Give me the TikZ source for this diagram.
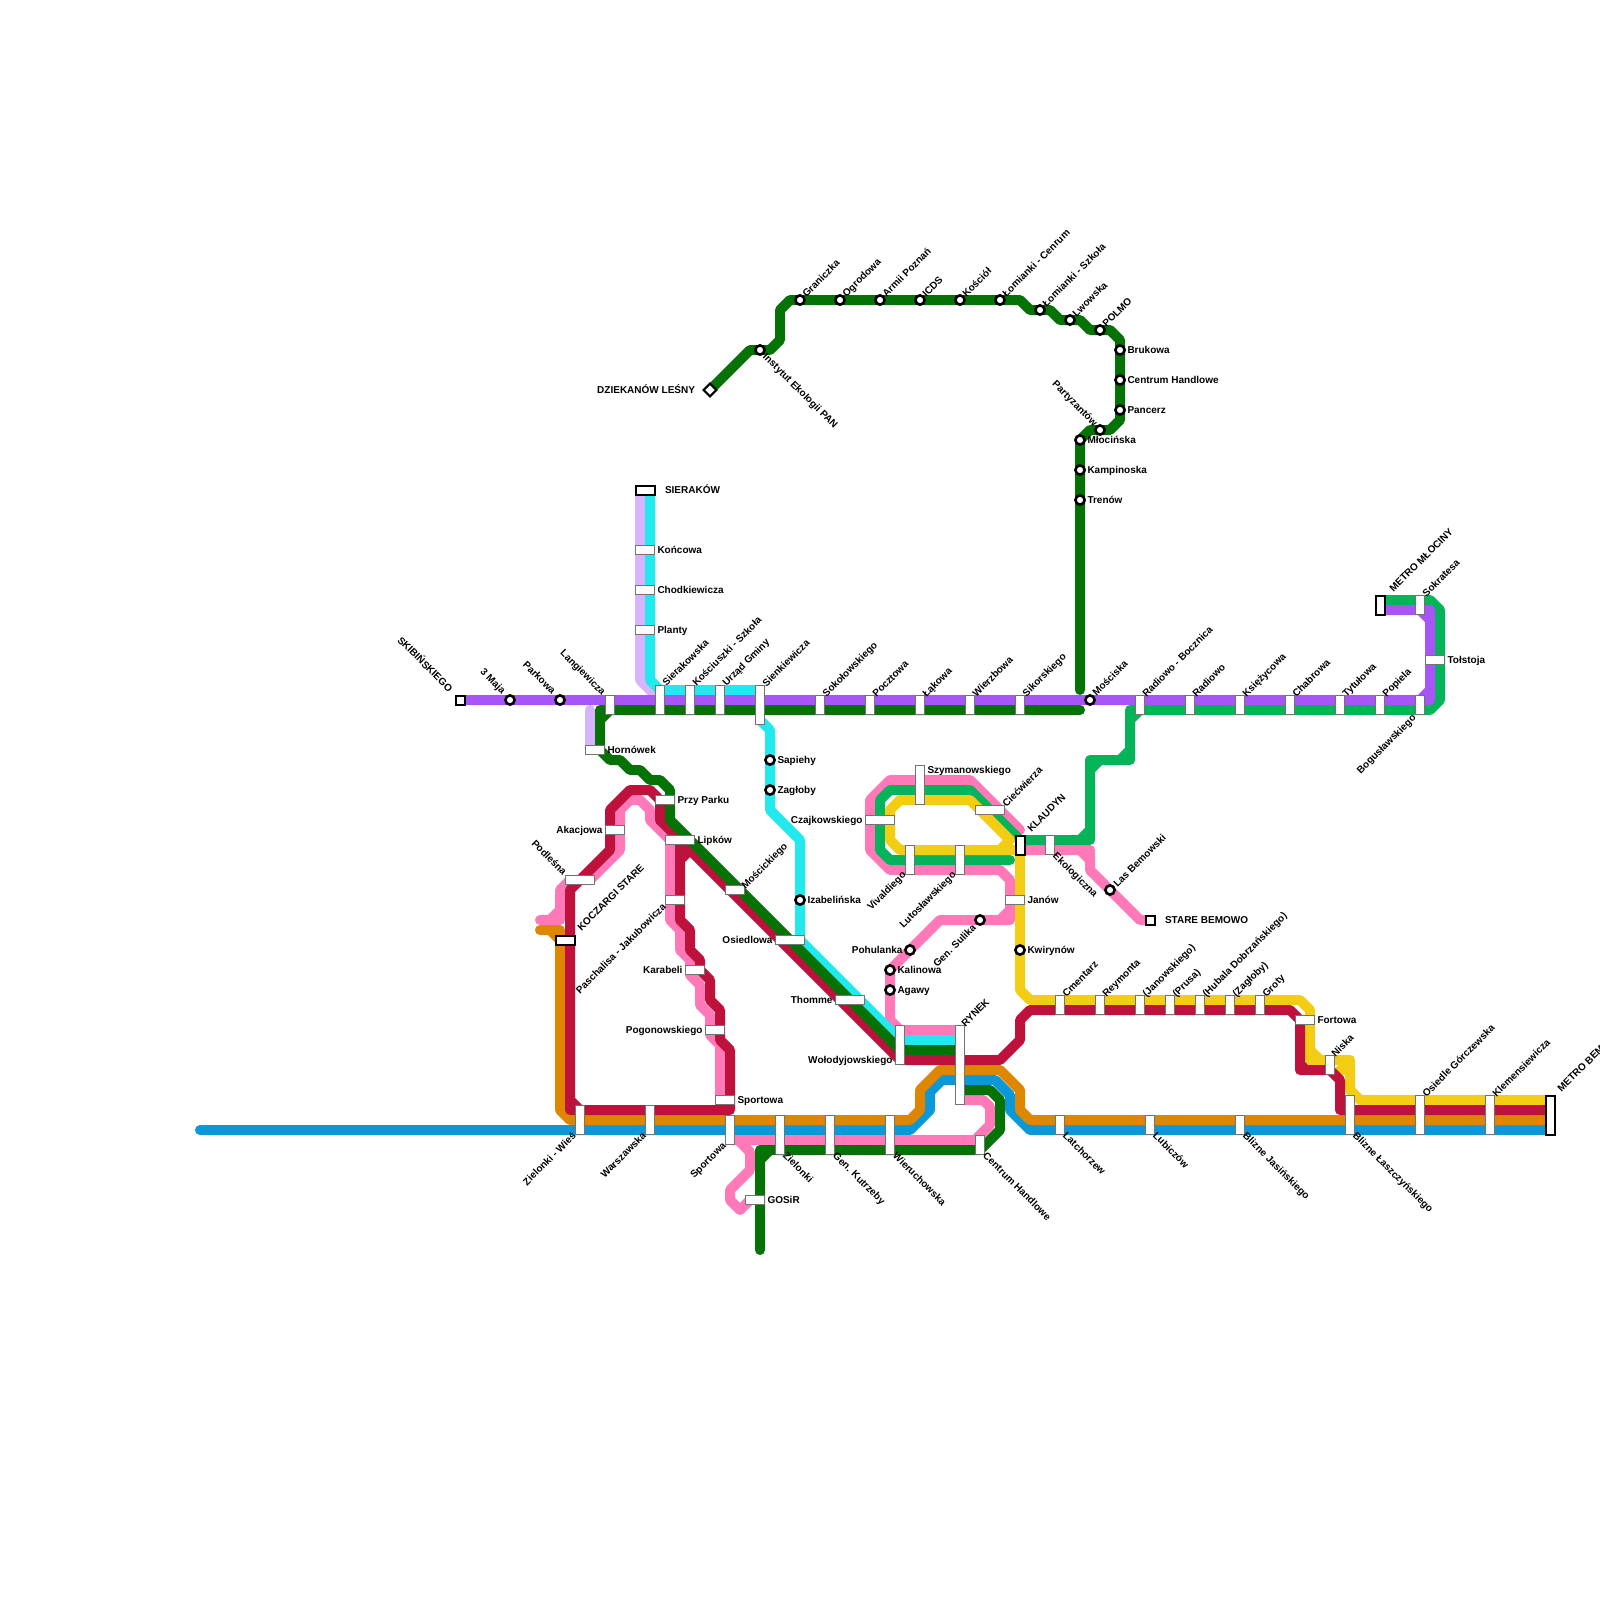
\documentclass[tikz,border=0pt]{standalone}
\usepackage{fontspec}
\setmainfont{Liberation Sans}
\definecolor{cPurple}{HTML}{A855F7}
\definecolor{cLav}{HTML}{D8B4FE}
\definecolor{cCyan}{HTML}{22E9EE}
\definecolor{cGreen}{HTML}{047204}
\definecolor{cEmer}{HTML}{05B358}
\definecolor{cCrim}{HTML}{BE123C}
\definecolor{cPink}{HTML}{FF78B8}
\definecolor{cYel}{HTML}{F2CD13}
\definecolor{cOra}{HTML}{DF8600}
\definecolor{cBlue}{HTML}{0A98D8}
\newcount\labcnt
\newcount\stcnt
\newcommand{\lab}[4]{\global\advance\labcnt by 1 \node[lb,#1] (lab\the\labcnt) at (#2,#3) {#4};}
\newcommand{\stn}[4]{\global\advance\stcnt by 1 \node[stbox,minimum width=#3pt-0.8pt,minimum height=#4pt-0.8pt] (st\the\stcnt) at (#1,#2) {};}
\newcommand{\trm}[4]{\global\advance\stcnt by 1 \node[trmbox,minimum width=#3pt-1pt,minimum height=#4pt-1pt] (st\the\stcnt) at (#1,#2) {};}
\newcommand{\crc}[2]{\global\advance\stcnt by 1 \node[circ] (st\the\stcnt) at (#1,#2) {};}
\tikzset{
  metro/.style={line width=10pt,line cap=round,line join=round},
  stbox/.style={draw=black!55,line width=1.3pt,fill=white,inner sep=0pt,outer sep=0pt,rectangle},
  trmbox/.style={draw=black,line width=2pt,fill=white,inner sep=0pt,outer sep=0pt,rectangle},
  circ/.style={draw=black,line width=2.6pt,fill=white,circle,inner sep=0pt,outer sep=0pt,minimum size=9.2pt},
  lb/.style={inner sep=0pt,outer sep=0pt,text height=7.2pt,text depth=0pt,font=\fontsize{10}{12}\selectfont\bfseries,text=black},
  lne/.style={rotate=45,anchor=west},
  lse/.style={rotate=-45,anchor=west},
  lnw/.style={rotate=-45,anchor=east},
  lsw/.style={rotate=45,anchor=east},
  lr/.style={anchor=west},
  ll/.style={anchor=east}
}
\begin{document}
\begin{tikzpicture}[x=1pt,y=-1pt]
\clip (0,0) rectangle (1600,1600);
\fill[white] (0,0) rectangle (1600,1600);
% lavender
\draw[metro,cLav] (640,490)--(640,680)--(660,700) (590,710)--(590,750);
% blue
\draw[metro,cBlue] (200,1130)--(910,1130)--(930,1110)--(930,1092)--(942,1080)--(995,1080)--(1010,1095)--(1010,1110)--(1030,1130)--(1550,1130);
% orange
\draw[metro,cOra] (540,930)--(560,930)--(560,1110)--(570,1120)--(910,1120)--(920,1110)--(920,1090)--(940,1070)--(1000,1070)--(1020,1090)--(1020,1110)--(1030,1120)--(1550,1120) (550,930)--(560,940);
% pink
\draw[metro,cPink] (1020,830)--(970,780)--(890,780)--(870,800)--(870,850)--(890,870)--(1000,870)--(1010,880)--(1010,920)--(940,920)--(890,970)--(890,1020)--(900,1030)--(960,1030) (1000,920)--(1010,910);
\draw[metro,cPink] (1020,850)--(1090,850)--(1090,870)--(1140,920)--(1150,920) (1080,850)--(1090,860);
\draw[metro,cPink] (960,1100)--(983,1100)--(990,1107)--(990,1125)--(975,1140)--(730,1140) (740,1142)--(750,1152)--(750,1170)--(730,1190)--(730,1200)--(740,1210)--(750,1200);
\draw[metro,cPink] (540,920)--(560,920)--(560,890)--(570,880)--(590,880)--(620,850)--(620,810)--(630,800)--(640,800)--(650,810)--(650,820)--(670,840)--(670,920)--(680,930)--(680,950)--(690,960)--(690,975)--(700,985)--(700,1005)--(710,1015)--(710,1035)--(720,1045)--(720,1100) (550,920)--(560,910);
% cyan
\draw[metro,cCyan] (650,490)--(650,680)--(660,690)--(760,690) (760,720)--(770,730)--(770,810)--(800,840)--(800,940)--(900,1040)--(960,1040);
% emerald
\draw[metro,cEmer] (1380,600)--(1430,600)--(1440,610)--(1440,700)--(1430,710)--(1130,710)--(1130,760)--(1090,760)--(1090,840)--(1020,840)--(970,790)--(890,790)--(880,800)--(880,850)--(890,860)--(1010,860) (1130,720)--(1140,710) (1120,760)--(1130,750) (1090,770)--(1100,760) (1080,840)--(1090,830);
% yellow
\draw[metro,cYel] (1550,1100)--(1360,1100)--(1350,1090)--(1350,1060)--(1310,1060)--(1310,1010)--(1300,1000)--(1030,1000)--(1020,990)--(1020,850)--(900,850)--(890,840)--(890,810)--(900,800)--(970,800)--(1010,840)--(1000,850) (1310,1050)--(1320,1060) (1340,1060)--(1350,1070) (1340,1070)--(1350,1070);
% crimson
\draw[metro,cCrim] (660,820)--(660,800)--(650,790)--(630,790)--(610,810)--(610,850)--(570,890)--(570,1110)--(730,1110)--(730,1050)--(720,1040)--(720,1010)--(710,1000)--(710,980)--(700,970)--(700,960)--(690,950)--(690,930)--(680,920)--(680,840) (570,1100)--(580,1110) (680,860)--(690,850);
\draw[metro,cCrim] (660,820)--(900,1060)--(1000,1060)--(1020,1040)--(1020,1020)--(1030,1010)--(1290,1010)--(1300,1020)--(1300,1070)--(1330,1070)--(1340,1080)--(1340,1110)--(1550,1110) (1300,1064)--(1306,1070) (1340,1100)--(1350,1110);
% dark green
\draw[metro,cGreen] (1080,710)--(600,710)--(600,750)--(610,760)--(620,760)--(630,770)--(640,770)--(650,780)--(660,780)--(670,790)--(670,820)--(900,1050)--(960,1050) (600,720)--(610,710);
\draw[metro,cGreen] (960,1090)--(990,1090)--(1000,1100)--(1000,1130)--(980,1150)--(760,1150)--(760,1250) (760,1160)--(770,1150);
\draw[metro,cGreen] (710,390)--(750,350)--(770,350)--(780,340)--(780,310)--(790,300)--(1020,300)--(1030,310)--(1050,310)--(1060,320)--(1080,320)--(1090,330)--(1110,330)--(1120,340)--(1120,420)--(1110,430)--(1090,430)--(1080,440)--(1080,690);
% purple
\draw[metro,cPurple] (460,700)--(1430,700)--(1430,610)--(1380,610) (1420,700)--(1430,690) (1420,610)--(1430,620);
% terminals
\trm{460}{700}{10}{10}
\trm{645}{490}{20}{10}
\trm{565}{940}{20}{10}
\trm{1020}{845}{10}{20}
\trm{1380}{605}{10}{20}
\trm{1550}{1115}{10}{40}
\trm{1150}{920}{10}{10}
\global\advance\stcnt by 1 \node[trmbox,minimum size=9pt,rotate=45] (st\the\stcnt) at (710,390) {};
% stations
\stn{645}{550}{20}{10}
\stn{645}{590}{20}{10}
\stn{645}{630}{20}{10}
\stn{610}{705}{10}{20}
\stn{660}{700}{10}{30}
\stn{690}{700}{10}{30}
\stn{720}{700}{10}{30}
\stn{760}{705}{10}{40}
\foreach \xx in {820,870,920,970,1020,1140,1190,1240,1290,1340,1380,1420}{\stn{\xx}{705}{10}{20}}
\stn{1420}{605}{10}{20}
\stn{1435}{660}{20}{10}
\stn{595}{750}{20}{10}
\stn{665}{800}{20}{10}
\stn{615}{830}{20}{10}
\stn{580}{880}{30}{10}
\stn{680}{840}{30}{10}
\stn{675}{900}{20}{10}
\stn{735}{890}{20}{10}
\stn{695}{970}{20}{10}
\stn{790}{940}{30}{10}
\stn{850}{1000}{30}{10}
\stn{715}{1030}{20}{10}
\stn{725}{1100}{20}{10}
\stn{900}{1045}{10}{40}
\stn{960}{1065}{10}{80}
\stn{920}{785}{10}{40}
\stn{990}{810}{30}{10}
\stn{880}{820}{30}{10}
\stn{910}{860}{10}{30}
\stn{960}{860}{10}{30}
\stn{1015}{900}{20}{10}
\stn{1050}{845}{10}{20}
\foreach \xx in {1060,1100,1140,1170,1200,1230,1260}{\stn{\xx}{1005}{10}{20}}
\stn{1305}{1020}{20}{10}
\stn{1330}{1065}{10}{20}
\stn{580}{1120}{10}{30}
\stn{650}{1120}{10}{30}
\stn{730}{1130}{10}{30}
\stn{780}{1135}{10}{40}
\stn{830}{1135}{10}{40}
\stn{890}{1135}{10}{40}
\stn{980}{1145}{10}{20}
\stn{755}{1200}{20}{10}
\stn{1060}{1125}{10}{20}
\stn{1150}{1125}{10}{20}
\stn{1240}{1125}{10}{20}
\stn{1350}{1115}{10}{40}
\stn{1420}{1115}{10}{40}
\stn{1490}{1115}{10}{40}
% circles
\crc{510}{700}\crc{560}{700}\crc{770}{760}\crc{770}{790}\crc{800}{900}
\crc{760}{350}\crc{800}{300}\crc{840}{300}\crc{880}{300}\crc{920}{300}\crc{960}{300}\crc{1000}{300}
\crc{1040}{310}\crc{1070}{320}\crc{1100}{330}\crc{1120}{350}\crc{1120}{380}\crc{1120}{410}\crc{1100}{430}
\crc{1080}{440}\crc{1080}{470}\crc{1080}{500}\crc{1090}{700}
\crc{980}{920}\crc{910}{950}\crc{890}{970}\crc{890}{990}\crc{1020}{950}\crc{1110}{890}
% labels horizontal right
\lab{lr}{665}{490}{SIERAKÓW}
\lab{lr}{657.5}{550}{Końcowa}
\lab{lr}{657.5}{590}{Chodkiewicza}
\lab{lr}{657.5}{630}{Planty}
\lab{lr}{607.5}{750}{Hornówek}
\lab{lr}{677.5}{800}{Przy Parku}
\lab{lr}{697.5}{840}{Lipków}
\lab{lr}{777.5}{760}{Sapiehy}
\lab{lr}{777.5}{790}{Zagłoby}
\lab{lr}{807.5}{900}{Izabelińska}
\lab{lr}{927.5}{770}{Szymanowskiego}
\lab{lr}{1027.5}{900}{Janów}
\lab{lr}{1027.5}{950}{Kwirynów}
\lab{lr}{897.5}{970}{Kalinowa}
\lab{lr}{897.5}{990}{Agawy}
\lab{lr}{1165}{920}{STARE BEMOWO}
\lab{lr}{1317.5}{1020}{Fortowa}
\lab{lr}{1447.5}{660}{Tołstoja}
\lab{lr}{737.5}{1100}{Sportowa}
\lab{lr}{767.5}{1200}{GOSiR}
\lab{lr}{1127.5}{350}{Brukowa}
\lab{lr}{1127.5}{380}{Centrum Handlowe}
\lab{lr}{1127.5}{410}{Pancerz}
\lab{lr}{1087.5}{440}{Młocińska}
\lab{lr}{1087.5}{470}{Kampinoska}
\lab{lr}{1087.5}{500}{Trenów}
% labels horizontal left
\lab{ll}{695}{390}{DZIEKANÓW LEŚNY}
\lab{ll}{602.5}{830}{Akacjowa}
\lab{ll}{682.5}{970}{Karabeli}
\lab{ll}{772.5}{940}{Osiedlowa}
\lab{ll}{702.5}{1030}{Pogonowskiego}
\lab{ll}{832.5}{1000}{Thomme}
\lab{ll}{892.5}{1060}{Wołodyjowskiego}
\lab{ll}{862.5}{820}{Czajkowskiego}
\lab{ll}{902.5}{950}{Pohulanka}
% up-right
\lab{lne}{804}{295}{Graniczka}
\lab{lne}{844}{295}{Ogrodowa}
\lab{lne}{884}{295}{Armii Poznań}
\lab{lne}{924}{295}{ICDS}
\lab{lne}{964}{295}{Kościół}
\lab{lne}{1004}{295}{Łomianki - Cenrum}
\lab{lne}{1044}{305}{Łomianki - Szkoła}
\lab{lne}{1074}{315}{Lwowska}
\lab{lne}{1104}{325}{POLMO}
\lab{lne}{664}{684}{Sierakowska}
\lab{lne}{694}{684}{Kościuszki - Szkoła}
\lab{lne}{724}{684}{Urząd Gminy}
\lab{lne}{764}{685}{Sienkiewicza}
\lab{lne}{824}{695}{Sokołowskiego}
\lab{lne}{874}{695}{Pocztowa}
\lab{lne}{924}{695}{Łąkowa}
\lab{lne}{974}{695}{Wierzbowa}
\lab{lne}{1024}{695}{Sikorskiego}
\lab{lne}{1094}{694}{Mościska}
\lab{lne}{1144}{695}{Radiowo - Bocznica}
\lab{lne}{1194}{695}{Radiowo}
\lab{lne}{1244}{695}{Księżycowa}
\lab{lne}{1294}{695}{Chabrowa}
\lab{lne}{1344}{695}{Tytułowa}
\lab{lne}{1384}{695}{Popiela}
\lab{lne}{1424}{595}{Sokratesa}
\lab{lne}{1391}{590}{METRO MŁOCINY}
\lab{lne}{743}{887}{Mościckiego}
\lab{lne}{579}{929}{KOCZARGI STARE}
\lab{lne}{1004}{805}{Ciećwierza}
\lab{lne}{1029}{830}{KLAUDYN}
\lab{lne}{1115}{885}{Las Bemowski}
\lab{lne}{963}{1025}{RYNEK}
\lab{lne}{1064}{995}{Cmentarz}
\lab{lne}{1104}{995}{Reymonta}
\lab{lne}{1144}{995}{(Janowskiego)}
\lab{lne}{1174}{995}{(Prusa)}
\lab{lne}{1204}{995}{(Hubala Dobrzańskiego)}
\lab{lne}{1234}{995}{(Zagłoby)}
\lab{lne}{1264}{995}{Groty}
\lab{lne}{1333}{1055}{Niska}
\lab{lne}{1424}{1095}{Osiedle Górczewska}
\lab{lne}{1494}{1095}{Klemensiewicza}
\lab{lne}{1559}{1090}{METRO BEMOWO}
% down-right, start at station
\lab{lse}{765}{355}{Instytut Ekologii PAN}
\lab{lse}{1055}{854}{Ekologiczna}
\lab{lse}{785}{1154}{Zielonki}
\lab{lse}{835}{1154}{Gen. Kutrzeby}
\lab{lse}{895}{1154}{Wieruchowska}
\lab{lse}{985}{1154}{Centrum Handlowe}
\lab{lse}{1065}{1134}{Latchorzew}
\lab{lse}{1155}{1134}{Lubiczów}
\lab{lse}{1245}{1134}{Blizne Jasińskiego}
\lab{lse}{1355}{1134}{Blizne Łaszczyńskiego}
% up-left, ending at station
\lab{lnw}{451}{690}{SKIBIŃSKIEGO}
\lab{lnw}{504}{692}{3 Maja}
\lab{lnw}{554}{692}{Parkowa}
\lab{lnw}{604}{693}{Langiewicza}
\lab{lnw}{565}{873}{Podleśna}
\lab{lnw}{1096}{424}{Partyzantów}
% down-left, ending at station
\lab{lsw}{664}{905}{Paschalisa - Jakubowicza}
\lab{lsw}{904}{873}{Vivaldiego}
\lab{lsw}{954}{873}{Lutosławskiego}
\lab{lsw}{974}{926}{Gen. Sulika}
\lab{lsw}{1414}{716}{Bogusławskiego}
\lab{lsw}{574}{1134}{Zielonki - Wieś}
\lab{lsw}{644}{1134}{Warszawska}
\lab{lsw}{724}{1144}{Sportowa}
\end{tikzpicture}
\end{document}
